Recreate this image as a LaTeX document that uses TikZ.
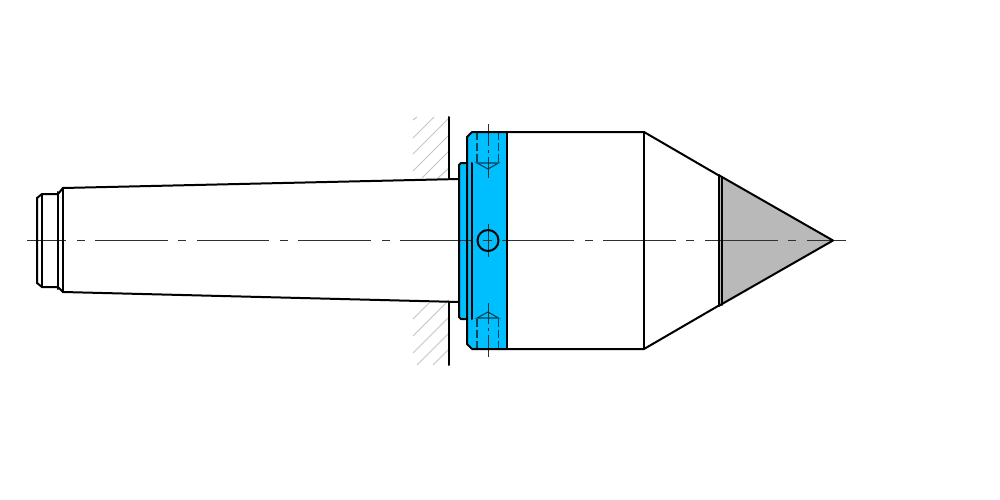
\documentclass[tikz,border=0pt]{standalone}
\definecolor{flange}{HTML}{00BFFF}
\definecolor{tipgray}{HTML}{B9B9B9}
\definecolor{hatchgray}{HTML}{C6C6C6}
\definecolor{axisgray}{HTML}{303030}
\tikzset{
  outline/.style={line width=2pt,black,line join=round,line cap=round},
  axisline/.style={line width=1pt,axisgray},
  hatchline/.style={line width=1pt,hatchgray},
  holeline/.style={line width=1.1pt,black!65!flange},
  holedash/.style={holeline,dash pattern=on 8pt off 3pt}
}
\begin{document}
\begin{tikzpicture}[x=1pt,y=-1pt]
\useasboundingbox (0,0) rectangle (1000,500);
\fill[white] (0,0) rectangle (1000,500);
% hatching
\foreach \a/\b/\c/\d in {413/120/417/117, 413/138/434/117, 413/154/449/118, 413/171/449/135, 422/178/449/151, 438/178/449/168,
  413/319/429/303, 413/336/449/300, 413/353/449/317, 417/365/449/333, 433/365/449/349}
  \draw[hatchline] (\a,\b) -- (\c,\d);
% fills
\fill[flange] (459,165) -- (461,163) -- (467,163) -- (467,137) -- (472,132) -- (507,132) -- (507,349) -- (472,349) -- (467,344) -- (467,319) -- (461,319) -- (459,317) -- cycle;
\fill[tipgray] (718,175) -- (833,240.5) -- (718,306) -- cycle;
% holes
\draw[holedash] (477,132) -- (477,163);
\draw[holedash] (498.5,132) -- (498.5,163);
\draw[holeline] (477,163) -- (498.5,163) -- (488,169) -- cycle;
\draw[holedash] (477,349) -- (477,318);
\draw[holedash] (498.5,349) -- (498.5,318);
\draw[holeline] (477,318) -- (498.5,318) -- (488,312) -- cycle;
\draw[axisline] (488,124) -- (488,146) (488,150) -- (488,153) (488,157) -- (488,178);
\draw[axisline] (488,303) -- (488,324) (488,328) -- (488,331) (488,335) -- (488,357);
% axis
\draw[axisline] (488,224) -- (488,257);
\foreach \a/\b in {27/66,77/85,95/168,178/186,197/269,280/288,298/371,382/390,400/472,483/492,502/574,585/593,603/676,686/694,705/778,788/796,807/846}
  \draw[axisline] (\a,240.5) -- (\b,240.5);
% outlines
\draw[outline] (449,117) -- (449,179);
\draw[outline] (449,302) -- (449,365);
\draw[outline] (42,194) -- (37,198) -- (37,283) -- (42,287) -- (58,287) -- (63,292) -- (459,302);
\draw[outline] (42,194) -- (58,194) -- (63,188) -- (459,179);
\draw[outline] (42,194) -- (42,287);
\draw[outline] (58,192) -- (58,289);
\draw[outline] (63,188) -- (63,292);
\draw[outline] (467,163) -- (461,163) -- (459,165) -- (459,317) -- (461,319) -- (467,319);
\draw[outline] (472,132) -- (467,137) -- (467,344) -- (472,349);
\draw[outline] (472,163) -- (472,319);
\draw[outline] (472,132) -- (644,132) -- (718,175);
\draw[outline] (472,349) -- (644,349) -- (718,306);
\draw[outline] (507,132) -- (507,349);
\draw[outline] (644,132) -- (644,349);
\draw[outline] (718.5,175) -- (718.5,306);
\draw[outline] (722,177) -- (722,305);
\draw[outline] (718.5,175) -- (833,240.5) -- (718.5,306);
\draw[outline] (488,240.5) circle[radius=10.5];
\end{tikzpicture}
\end{document}
